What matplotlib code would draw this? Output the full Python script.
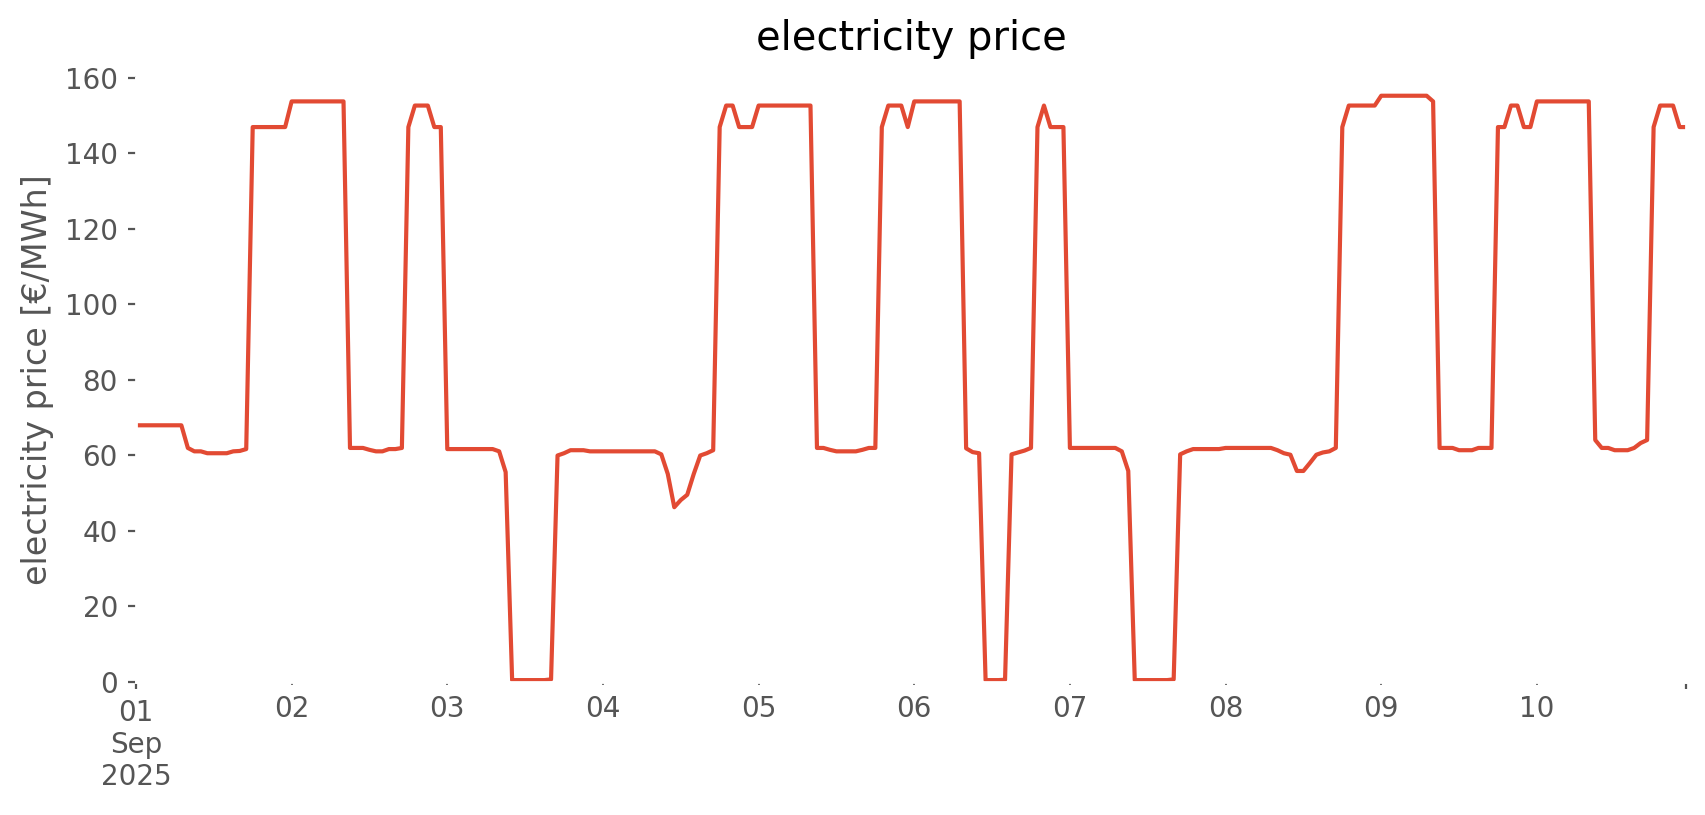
import numpy as np
import pandas as pd
import matplotlib
matplotlib.use("Agg")
import matplotlib.pyplot as plt

# hourly electricity price, 01 Sep 2025 00:00 .. 10 Sep 2025 23:00  [EUR/MWh]
day01 = [68]*8 + [62.0, 61.1, 61.1, 60.6, 60.6, 60.6, 60.6, 61.1, 61.2, 61.7] + [147]*6
day02 = [153.8]*9 + [62.0, 62.0, 62.0, 61.5, 61.1, 61.1, 61.7, 61.7, 62.0] + [147, 152.7, 152.7, 152.7, 147, 147]
day03 = [61.7]*8 + [61.1, 55.6] + [0.5]*6 + [0.7] + [60.0, 60.6, 61.4, 61.4, 61.4, 61.1, 61.1]
day04 = [61.1]*9 + [60.3, 55.1, 46.3, 48.2, 49.6, 55.1, 60.0, 60.6, 61.4] + [147, 152.7, 152.7, 147, 147, 147]
day05 = [152.7]*9 + [62.0, 62.0, 61.5, 61.1, 61.1, 61.1, 61.1, 61.5, 62.0, 62.0] + [147, 152.7, 152.7, 152.7, 147]
day06 = [153.8]*8 + [61.9, 60.9, 60.6] + [0.5, 0.5, 0.5, 0.6] + [60.3, 60.8, 61.3, 62.0] + [147, 152.7, 147, 147, 147]
day07 = [62.0]*8 + [61.1, 55.9] + [0.5]*6 + [0.7] + [60.3, 61.1] + [61.7]*5
day08 = [62.0]*8 + [61.4, 60.6, 60.2, 55.9, 55.9, 58.0, 60.2, 60.8, 61.1, 62.0] + [147] + [152.7]*5
day09 = [155.3]*8 + [153.8] + [62.0]*3 + [61.4]*3 + [62.0]*3 + [147, 147, 152.7, 152.7, 147, 147]
day10 = [153.8]*9 + [64.1, 62.0, 62.0, 61.4, 61.4, 61.4, 62.0, 63.3, 64.1] + [147, 152.7, 152.7, 152.7, 147, 147]

price = day01 + day02 + day03 + day04 + day05 + day06 + day07 + day08 + day09 + day10
time = pd.date_range("2025-09-01 00:00", periods=len(price), freq="h")

plt.style.use("ggplot")
plt.rcParams["font.size"] = 10

fig = plt.figure(figsize=(8.53, 4.075), dpi=200)
ax = fig.add_axes([0.0797, 0.1632, 0.9086, 0.7411])
ax.set_facecolor("white")
ax.grid(False)

ax.plot(time, price, color="#E24A33", linewidth=1.5)

ax.set_xlim(time[0], time[-1])
ax.set_ylim(0, 160)
ax.set_yticks(np.arange(0, 161, 20))

ax.set_xticks([time[0], time[-1]])
ax.set_xticklabels(["01\nSep\n2025", ""])
minor_days = pd.date_range("2025-09-02", "2025-09-10", freq="D")
ax.set_xticks(minor_days, minor=True)
ax.set_xticklabels([d.strftime("%d") for d in minor_days], minor=True)
ax.tick_params(axis="x", which="major", length=2.5, color="#555555")
ax.tick_params(axis="x", which="minor", length=1.2, color="#555555", labelsize=10, labelcolor="#555555")
ax.tick_params(axis="y", length=3, color="#555555")

ax.set_ylabel("electricity price [€/MWh]", color="#555555")
ax.set_title("electricity price", color="black", pad=10)

fig.savefig("out.png", dpi=200, facecolor="white")
